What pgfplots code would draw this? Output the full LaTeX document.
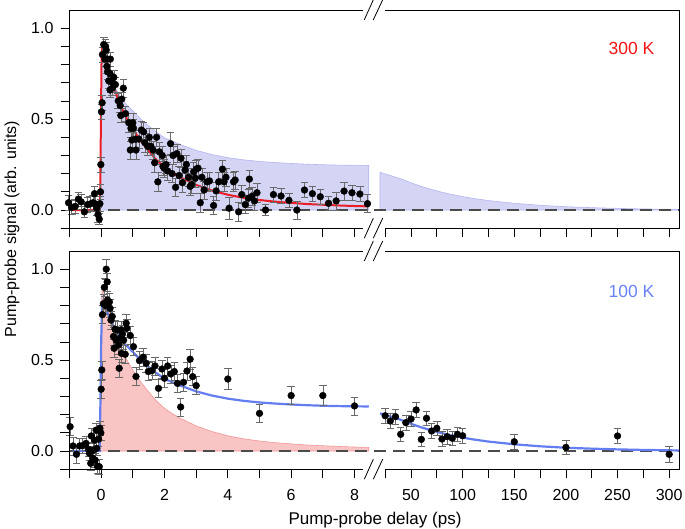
\documentclass[border=0pt]{standalone}
\usepackage{fontspec}
\setmainfont{Liberation Sans}
\usepackage{pgfplots}
\usepackage{pgfplotstable}
\pgfplotsset{compat=1.18}
\definecolor{redline}{RGB}{235,30,40}
\definecolor{blueline}{RGB}{100,125,240}
\definecolor{bluefill}{RGB}{212,212,245}
\definecolor{blueedge}{RGB}{180,180,242}
\definecolor{redfill}{RGB}{248,196,196}
\definecolor{rededge}{RGB}{242,150,150}
\definecolor{zerodash}{RGB}{75,75,75}
\definecolor{errgray}{RGB}{105,105,105}
\definecolor{lbl300}{RGB}{245,20,20}
\definecolor{lbl100}{RGB}{105,130,245}

% 300 K data (left segment)
\pgfplotstableread{
x y e
-1.03 0.04 0.04
-0.93 0.015 0.04
-0.82 0.02 0.04
-0.72 0.06 0.04
-0.63 0.045 0.04
-0.53 -0.01 0.03
-0.43 0.03 0.04
-0.35 0.033 0.04
-0.26 0.04 0.04
-0.21 0.09 0.04
-0.17 0.033 0.04
-0.14 0.01 0.04
-0.10 -0.025 0.04
-0.06 -0.05 0.03
-0.04 0.035 0.04
-0.02 0.10 0.04
-0.01 0.25 0.04
0.01 0.54 0.04
0.03 0.59 0.04
0.04 0.855 0.04
0.08 0.91 0.04
0.14 0.90 0.04
0.16 0.88 0.04
0.12 0.83 0.04
0.20 0.83 0.04
0.29 0.83 0.04
0.18 0.79 0.04
0.20 0.76 0.04
0.28 0.75 0.04
0.24 0.71 0.04
0.33 0.705 0.04
0.40 0.73 0.04
0.28 0.66 0.04
0.35 0.67 0.04
0.45 0.69 0.04
0.70 0.67 0.05
0.54 0.60 0.04
0.65 0.61 0.04
0.60 0.575 0.04
0.77 0.53 0.04
0.62 0.52 0.04
0.87 0.48 0.05
1.00 0.48 0.05
0.94 0.45 0.05
1.02 0.45 0.05
0.97 0.385 0.05
1.09 0.39 0.05
1.19 0.39 0.05
0.92 0.33 0.05
1.10 0.33 0.05
1.27 0.44 0.05
1.34 0.43 0.05
1.38 0.37 0.05
1.47 0.35 0.05
1.52 0.40 0.05
1.57 0.35 0.05
1.64 0.33 0.05
1.69 0.26 0.05
1.75 0.40 0.05
1.79 0.155 0.05
1.84 0.32 0.05
1.93 0.30 0.05
1.95 0.24 0.05
1.99 0.23 0.05
2.05 0.25 0.05
2.10 0.215 0.05
2.19 0.365 0.06
2.24 0.20 0.05
2.27 0.30 0.05
2.35 0.125 0.05
2.39 0.31 0.05
2.46 0.19 0.05
2.52 0.285 0.05
2.57 0.15 0.05
2.65 0.22 0.05
2.69 0.25 0.05
2.76 0.18 0.05
2.81 0.13 0.05
2.86 0.14 0.05
2.92 0.21 0.05
2.97 0.175 0.05
3.00 0.225 0.05
3.06 0.23 0.05
3.13 0.04 0.05
3.18 0.18 0.05
3.25 0.11 0.05
3.34 0.155 0.05
3.42 0.16 0.05
3.55 0.025 0.05
3.63 0.105 0.05
3.71 0.155 0.05
3.83 0.225 0.05
3.94 0.18 0.05
3.88 0.155 0.05
4.04 0.01 0.06
4.18 0.155 0.05
4.23 0.165 0.05
4.34 -0.01 0.05
4.44 0.085 0.05
4.55 0.03 0.05
4.65 0.065 0.05
4.68 0.17 0.05
4.76 0.075 0.05
4.84 0.05 0.05
4.92 0.095 0.05
5.19 0.00 0.03
5.44 0.085 0.04
5.68 0.077 0.04
5.93 0.053 0.04
6.18 0.00 0.05
6.42 0.11 0.04
6.67 0.09 0.04
6.92 0.073 0.04
7.18 0.037 0.04
7.42 0.05 0.05
7.67 0.104 0.05
7.92 0.095 0.04
8.17 0.088 0.04
8.41 0.035 0.05
}\dataA

% 100 K data (left segment)
\pgfplotstableread{
x y e
-0.98 0.134 0.05
-0.89 0.028 0.05
-0.78 -0.018 0.05
-0.68 0.028 0.04
-0.58 0.03 0.04
-0.48 0.042 0.04
-0.40 0.01 0.04
-0.37 -0.013 0.04
-0.33 -0.068 0.04
-0.31 0.083 0.04
-0.26 -0.04 0.04
-0.24 0.005 0.04
-0.21 0.06 0.04
-0.19 -0.05 0.04
-0.16 0.115 0.04
-0.14 0.015 0.04
-0.12 -0.083 0.04
-0.08 0.065 0.04
-0.06 -0.086 0.04
-0.04 0.125 0.04
-0.01 0.10 0.04
0.00 0.34 0.05
0.02 0.446 0.05
0.04 0.75 0.05
0.07 0.81 0.05
0.10 0.90 0.05
0.14 0.80 0.05
0.16 1.00 0.055
0.19 0.93 0.05
0.20 0.83 0.05
0.26 0.82 0.05
0.28 0.785 0.05
0.31 0.72 0.05
0.35 0.74 0.05
0.39 0.63 0.05
0.41 0.565 0.05
0.44 0.67 0.05
0.47 0.61 0.05
0.52 0.666 0.05
0.55 0.583 0.05
0.57 0.455 0.05
0.60 0.62 0.05
0.62 0.666 0.05
0.64 0.537 0.05
0.67 0.642 0.05
0.71 0.61 0.05
0.76 0.532 0.05
0.79 0.703 0.05
0.81 0.675 0.05
0.92 0.635 0.05
1.02 0.574 0.05
1.10 0.41 0.05
1.21 0.497 0.05
1.32 0.516 0.05
1.42 0.483 0.05
1.49 0.437 0.05
1.60 0.442 0.05
1.70 0.468 0.05
1.81 0.345 0.05
1.92 0.451 0.05
2.00 0.40 0.05
2.10 0.468 0.05
2.20 0.424 0.05
2.31 0.437 0.05
2.41 0.372 0.05
2.51 0.242 0.05
2.60 0.378 0.05
2.71 0.44 0.05
2.81 0.505 0.055
2.89 0.409 0.05
3.00 0.36 0.05
4.00 0.396 0.057
5.00 0.207 0.05
6.00 0.305 0.05
7.00 0.305 0.055
8.00 0.248 0.05
}\dataB

% 100 K data (right segment)
\pgfplotstableread{
x y e
25 0.194 0.04
30 0.165 0.04
35 0.189 0.04
40 0.092 0.04
45 0.156 0.04
50 0.176 0.04
55 0.226 0.04
60 0.064 0.04
65 0.18 0.04
70 0.11 0.04
75 0.125 0.04
80 0.066 0.04
85 0.079 0.04
90 0.07 0.04
95 0.092 0.04
100 0.084 0.04
150 0.051 0.04
200 0.02 0.04
250 0.083 0.04
300 -0.018 0.044
}\dataC

% 300 K fit
\pgfplotstableread{
x y
-0.90 0.0
-0.05 0.0
-0.03 0.10
-0.01 0.45
0.01 0.80
0.03 0.89
0.05 0.90
0.10 0.87
0.20 0.80
0.30 0.74
0.40 0.68
0.50 0.625
0.60 0.58
0.70 0.54
0.80 0.505
1.00 0.445
1.25 0.38
1.50 0.325
1.75 0.275
2.00 0.235
2.25 0.205
2.50 0.18
3.00 0.138
3.50 0.107
4.00 0.084
4.50 0.067
5.00 0.055
5.50 0.046
6.00 0.039
6.50 0.033
7.00 0.029
7.50 0.025
8.00 0.022
8.45 0.020
}\fitRed

% 100 K fit (left)
\pgfplotstableread{
x y
-0.90 0.0
-0.05 0.0
-0.02 0.30
0.00 0.60
0.03 0.80
0.06 0.82
0.10 0.80
0.20 0.76
0.30 0.72
0.40 0.685
0.50 0.655
0.60 0.625
0.70 0.60
0.80 0.58
1.00 0.545
1.25 0.50
1.50 0.462
1.75 0.428
2.00 0.397
2.50 0.36
3.00 0.328
3.50 0.305
4.00 0.288
4.50 0.276
5.00 0.267
5.50 0.261
6.00 0.256
6.50 0.252
7.00 0.249
7.50 0.247
8.00 0.246
8.45 0.245
}\fitBlueL

% 100 K fit (right)
\pgfplotstableread{
x y
20 0.207
30 0.19
40 0.172
50 0.15
60 0.13
70 0.113
80 0.098
90 0.085
100 0.074
110 0.064
125 0.052
150 0.037
175 0.026
200 0.018
225 0.013
250 0.009
275 0.006
300 0.004
310 0.003
}\fitBlueR

\pgfplotsset{
  brk/.style={
    scale only axis,
    height=218.2pt,
    ymin=-0.1, ymax=1.1,
    axis lines*=left,
    axis line style={draw=none},
    clip=false,
    tick align=outside,
    major tick length=9pt, minor tick length=9pt,
    tick style={black, line width=0.7pt},
    every tick label/.append style={font=\fontsize{16}{19}\selectfont},
    /pgf/number format/assume math mode=true,
    xticklabel style={yshift=-8pt},
    yticklabel style={xshift=-3.5pt},
  },
  leftpart/.style={
    brk, width=304pt, xmin=-1, xmax=8.6,
    xtick={0,2,4,6,8}, minor xtick={-1,1,3,5,7},
    ytick={0,0.5,1}, minor ytick={-0.1,0.1,0.2,0.3,0.4,0.6,0.7,0.8,0.9},
    yticklabel style={/pgf/number format/.cd, fixed, fixed zerofill, precision=1},
  },
  rightpart/.style={
    brk, width=306pt, xmin=13.7, xmax=310,
    xtick={50,100,150,200,250,300}, minor xtick={25,75,125,175,225,275},
    ytick=\empty,
  },
  datapts/.style={
    only marks, mark=*, mark size=3.4pt, black,
    error bars/.cd, y dir=both, y explicit,
    error bar style={errgray, line width=0.6pt},
    error mark options={errgray, rotate=90, mark size=3.8pt, line width=0.6pt},
  },
  zeroline/.style={zerodash, line width=1.8pt, dash pattern=on 12pt off 7pt},
}

\begin{document}
\begin{tikzpicture}
\useasboundingbox (0,0) rectangle (685pt,-528pt);

% ---------------- Top panel, left part ----------------
\begin{axis}[leftpart, at={(69.5pt,-228.2pt)}, anchor=south west, xticklabels={}]
\addplot[fill=bluefill, draw=blueedge, line width=0.6pt] table[x=x,y=y] {\fitBlueL} \closedcycle;
\addplot[zeroline] coordinates {(-1,0) (8.6,0)};
\addplot[redline, line width=2pt] table[x=x,y=y] {\fitRed};
\addplot[datapts] table[x=x,y=y,y error=e] {\dataA};
\draw[black, line width=0.8pt] (axis cs:8.27,1.1) -- (axis cs:-1,1.1) -- (axis cs:-1,-0.1) -- (axis cs:8.27,-0.1);
\end{axis}

% ---------------- Top panel, right part ----------------
\begin{axis}[rightpart, at={(373.5pt,-228.2pt)}, anchor=south west, xticklabels={}]
\addplot[fill=bluefill, draw=blueedge, line width=0.6pt] table[x=x,y=y] {\fitBlueR} \closedcycle;
\addplot[zeroline] coordinates {(13.7,0) (310,0)};
\draw[black, line width=0.8pt] (axis cs:24.8,1.1) -- (axis cs:310,1.1) -- (axis cs:310,-0.1) -- (axis cs:24.8,-0.1);
\end{axis}

% ---------------- Bottom panel, left part ----------------
\begin{axis}[leftpart, at={(69.5pt,-469.2pt)}, anchor=south west]
\addplot[fill=redfill, draw=rededge, line width=0.6pt] table[x=x,y=y] {\fitRed} \closedcycle;
\addplot[zeroline] coordinates {(-1,0) (8.6,0)};
\addplot[blueline, line width=2.2pt] table[x=x,y=y] {\fitBlueL};
\addplot[datapts] table[x=x,y=y,y error=e] {\dataB};
\draw[black, line width=0.8pt] (axis cs:8.27,1.1) -- (axis cs:-1,1.1) -- (axis cs:-1,-0.1) -- (axis cs:8.27,-0.1);
\end{axis}

% ---------------- Bottom panel, right part ----------------
\begin{axis}[rightpart, at={(373.5pt,-469.2pt)}, anchor=south west]
\addplot[zeroline] coordinates {(13.7,0) (310,0)};
\addplot[blueline, line width=2.2pt] table[x=x,y=y] {\fitBlueR};
\addplot[datapts] table[x=x,y=y,y error=e] {\dataC};
\draw[black, line width=0.8pt] (axis cs:24.8,1.1) -- (axis cs:310,1.1) -- (axis cs:310,-0.1) -- (axis cs:24.8,-0.1);
\end{axis}

% axis break marks
\foreach \yy in {9.8,228.2,251.0,469.2}{
  \draw[black, line width=0.8pt] (364.3pt,-\yy pt-10pt) -- (373.3pt,-\yy pt+10pt);
  \draw[black, line width=0.8pt] (373.3pt,-\yy pt-10pt) -- (382.7pt,-\yy pt+10pt);
}

% labels
\node[rotate=90, font=\fontsize{16}{19}\selectfont] at (12pt,-229pt) {Pump-probe signal (arb. units)};
\node[anchor=base, font=\fontsize{17}{20}\selectfont] at (375pt,-524pt) {Pump-probe delay (ps)};
\node[text=lbl300, font=\fontsize{17.5}{20}\selectfont] at (631.5pt,-48.3pt) {300 K};
\node[text=lbl100, font=\fontsize{17.5}{20}\selectfont] at (631.5pt,-291pt) {100 K};
\end{tikzpicture}
\end{document}
